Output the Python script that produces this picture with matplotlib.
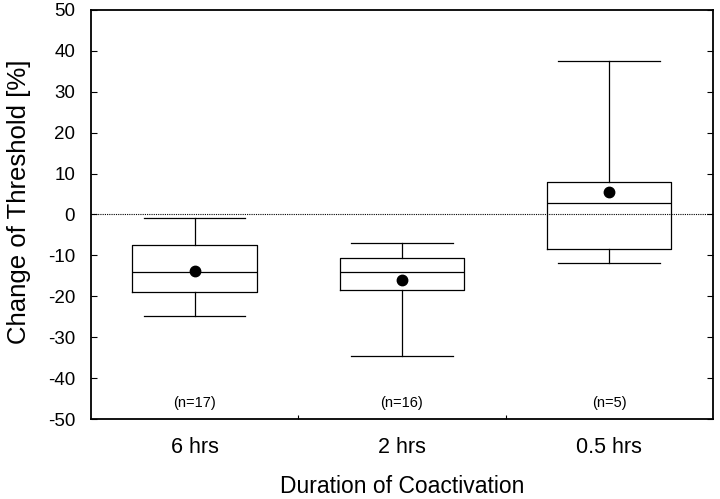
import numpy as np
import matplotlib.pyplot as plt

plt.rcParams['font.family'] = ['Liberation Sans', 'DejaVu Sans']
plt.rcParams['axes.unicode_minus'] = False

# data (percent change of threshold)
groups = ['6 hrs', '2 hrs', '0.5 hrs']
n_labels = ['(n=17)', '(n=16)', '(n=5)']
whisker_low = [-24.8, -34.6, -11.8]
q1 = [-19.0, -18.5, -8.4]
median = [-14.0, -14.0, 2.8]
q3 = [-7.5, -10.7, 7.9]
whisker_high = [-0.9, -6.9, 37.6]
means = [-13.8, -16.0, 5.5]

stats = []
for i in range(len(groups)):
    stats.append({'whislo': whisker_low[i], 'q1': q1[i], 'med': median[i],
                  'q3': q3[i], 'whishi': whisker_high[i], 'mean': means[i],
                  'fliers': []})

fig = plt.figure(figsize=(7.2, 4.99), dpi=100)
ax = fig.add_axes([0.1264, 0.1603, 0.8636, 0.8197])

pos = np.arange(1, len(groups) + 1)
lw = 0.9
ax.axhline(0, color='black', linestyle=(0, (1, 1)), linewidth=0.8, zorder=1)
ax.bxp(stats, positions=pos, widths=0.6, capwidths=0.49, showmeans=True,
       boxprops=dict(color='black', linewidth=lw),
       whiskerprops=dict(color='black', linewidth=lw),
       capprops=dict(color='black', linewidth=lw),
       medianprops=dict(color='black', linewidth=lw),
       meanprops=dict(marker='o', markerfacecolor='black',
                      markeredgecolor='black', markersize=7.5))

for p, lab in zip(pos, n_labels):
    ax.text(p, -46, lab, ha='center', va='center', fontsize=10.5)

ax.set_xlim(0.5, 3.5)
ax.set_ylim(-50, 50)
ax.set_yticks(np.arange(-50, 51, 10))
ax.set_xticks(pos)
ax.set_xticklabels(groups, fontsize=15.5)
ax.set_xticks([1.5, 2.5], minor=True)
ax.tick_params(axis='x', which='major', length=0, pad=13)
ax.tick_params(axis='x', which='minor', direction='in', length=3, width=0.8)
ax.tick_params(axis='y', direction='in', length=4, width=0.8, right=True,
               labelsize=13.5, pad=11.5)
for s in ax.spines.values():
    s.set_linewidth(1.3)

ax.set_xlabel('Duration of Coactivation', fontsize=16.5)
ax.set_ylabel('Change of Threshold [%]', fontsize=18.5)
ax.xaxis.set_label_coords(0.5, -0.166)
ax.yaxis.set_label_coords(-0.116, 0.53)
ax.xaxis.label.set_va('center')
ax.yaxis.label.set_va('center')

fig.savefig('out.png', dpi=100)
